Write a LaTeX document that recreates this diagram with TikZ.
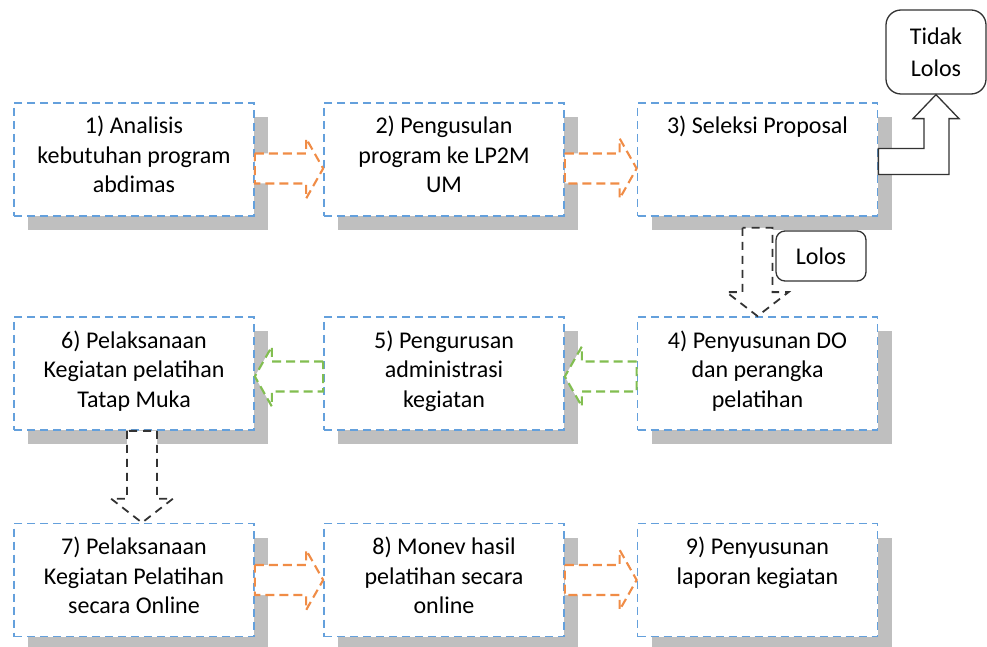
\documentclass[tikz,border=0pt]{standalone}
\usepackage{fontspec}
\setmainfont{Carlito}
\usetikzlibrary{calc,shadows}

\definecolor{kotakbiru}{RGB}{100,160,220}
\definecolor{panahoranye}{RGB}{240,140,70}
\definecolor{panahhijau}{RGB}{130,190,80}

\tikzset{
  tahap/.style={draw=kotakbiru, fill=white, line width=1.7pt,
    dash pattern=on 8pt off 5pt, inner sep=0pt,
    font=\fontsize{24}{29.5}\selectfont,
    drop shadow={shadow xshift=14pt, shadow yshift=-14pt, fill=black!25, opacity=1}},
  keputusan/.style={draw=black!80, fill=white, line width=1.3pt, align=center,
    inner sep=0pt, font=\fontsize{24}{32}\selectfont},
  oranyearr/.style={draw=panahoranye, fill=white, line width=2.1pt,
    dash pattern=on 9pt off 5pt},
  hijauarr/.style={draw=panahhijau, fill=white, line width=2.1pt,
    dash pattern=on 9pt off 5pt},
  hitamarr/.style={draw=black!80, fill=white, line width=1.8pt,
    dash pattern=on 8pt off 6pt},
  belokarr/.style={draw=black!80, fill=white, line width=1.3pt}
}

% isi kotak: teks di bagian atas
\newcommand{\isitahap}[1]{\parbox[c][113pt][t]{240pt}{\centering\rule{0pt}{31pt}#1}}
% panah blok mendatar dan menurun
\newcommand{\hblok}[3]{%
  \draw[#1] let \p1=(#2), \p2=(#3), \n2={\x2-17*sign(\x2-\x1)} in
    (\x1,\y1+15) -- (\n2,\y1+15) -- (\n2,\y1+30) -- (\x2,\y1)
    -- (\n2,\y1-30) -- (\n2,\y1-15) -- (\x1,\y1-15) -- cycle;}
\newcommand{\vblok}[3]{%
  \draw[#1] let \p1=(#2), \p2=(#3) in
    (\x1-15,\y1) -- (\x1-15,\y2+24) -- (\x1-31,\y2+24) -- (\x1,\y2)
    -- (\x1+31,\y2+24) -- (\x1+15,\y2+24) -- (\x1+15,\y1) -- cycle;}

\begin{document}
\begin{tikzpicture}[x=1pt,y=1pt]
  \path[use as bounding box, fill=white] (0,0) rectangle (987,646);
  % baris atas
  \node[tahap] (analisis) at (134,486.5) {\isitahap{1) Analisis\\kebutuhan program\\abdimas}};
  \node[tahap] (usulan) at (444,486.5) {\isitahap{2) Pengusulan\\program ke LP2M\\UM}};
  \node[tahap] (seleksi) at (757.5,486.5) {\isitahap{3) Seleksi Proposal}};
  % baris tengah
  \node[tahap] (tatapmuka) at (134,272.5) {\isitahap{6) Pelaksanaan\\Kegiatan pelatihan\\Tatap Muka}};
  \node[tahap] (urus) at (444,272.5) {\isitahap{5) Pengurusan\\administrasi\\kegiatan}};
  \node[tahap] (susun) at (757.5,272.5) {\isitahap{4) Penyusunan DO\\dan perangka\\pelatihan}};
  % baris bawah
  \node[tahap] (online) at (134,66) {\isitahap{7) Pelaksanaan\\Kegiatan Pelatihan\\secara Online}};
  \node[tahap] (monev) at (444,66) {\isitahap{8) Monev hasil\\pelatihan secara\\online}};
  \node[tahap] (laporan) at (757.5,66) {\isitahap{9) Penyusunan\\laporan kegiatan}};
  % hasil seleksi
  \node[keputusan, minimum width=100pt, minimum height=84pt, rounded corners=15pt] (tidak) at (936,594) {Tidak\\Lolos};
  \node[keputusan, minimum width=90pt, minimum height=50pt, rounded corners=9pt] (lolos) at (821,390) {Lolos};
  % panah antar tahap
  \hblok{oranyearr}{$(analisis.east)+(0,-9)$}{$(usulan.west)+(0,-9)$}
  \hblok{oranyearr}{$(usulan.east)+(0,-9)$}{$(seleksi.west)+(0,-9)$}
  \vblok{hitamarr}{$(seleksi.south)+(0,-11)$}{susun.north}
  \hblok{hijauarr}{$(susun.west)+(0,-3)$}{$(urus.east)+(0,-3)$}
  \hblok{hijauarr}{$(urus.west)+(0,-3)$}{$(tatapmuka.east)+(0,-3)$}
  \vblok{hitamarr}{$(tatapmuka.south)+(8,0)$}{$(online.north)+(8,0)$}
  \hblok{oranyearr}{online.east}{monev.west}
  \hblok{oranyearr}{monev.east}{laporan.west}
  % panah ke Tidak Lolos
  \draw[belokarr] let \p1=(seleksi.east), \p2=(tidak.south) in
    (\x1,\y1+11) -- (\x2-12,\y1+11) -- (\x2-12,\y2-24) -- (\x2-23,\y2-24) -- (\p2)
    -- (\x2+23,\y2-24) -- (\x2+13,\y2-24) -- (\x2+13,\y1-15) -- (\x1,\y1-15) -- cycle;
\end{tikzpicture}
\end{document}
